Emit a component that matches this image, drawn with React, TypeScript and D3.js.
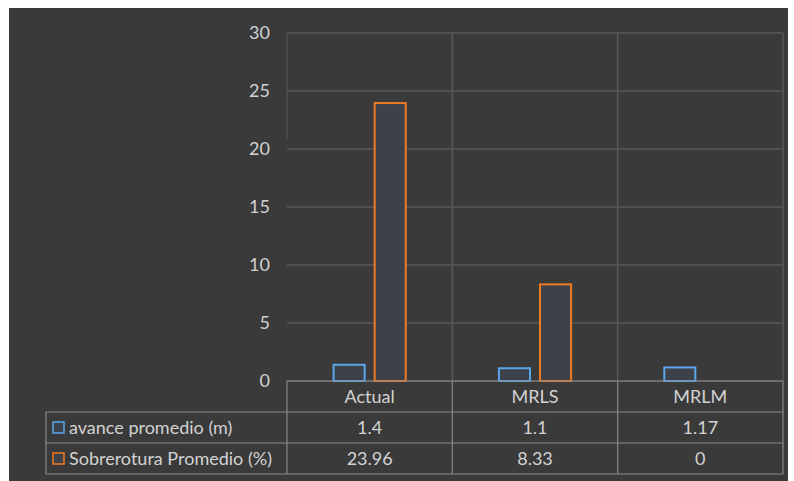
import React from "react";
import * as d3 from "d3";

const categories = ["Actual", "MRLS", "MRLM"];
const seriesNames = ["avance promedio (m)", "Sobrerotura Promedio (%)"];
const avance = [1.4, 1.1, 1.17];
const sobrerotura = [23.96, 8.33, 0];
const avanceLabels = ["1.4", "1.1", "1.17"];
const sobreroturaLabels = ["23.96", "8.33", "0"];
const yTicks = [0, 5, 10, 15, 20, 25, 30];

const colors = ["#5aa6ec", "#f07a22"];

export default function App() {
  const W = 794, H = 481;
  const plotL = 287, plotR = 783, plotT = 33, plotB = 381;
  const tableL = 46;
  const rowH = 31;
  const font = "Lato, 'Open Sans', sans-serif";
  const fs = 18;

  const x = d3.scaleBand().domain(categories).range([plotL, plotR]).paddingInner(0).paddingOuter(0);
  const y = d3.scaleLinear().domain([0, 30]).range([plotB, plotT]);
  const inner = d3.scaleBand().domain(["0", "1"]).range([0, x.bandwidth()]).paddingInner(0.244).paddingOuter(1.134);

  const series = [avance, sobrerotura];
  const labels = [avanceLabels, sobreroturaLabels];
  const textCol = "#d2d2d2";
  const lineCol = "#8a8a8a";
  const gridCol = "#585858";

  return (
    <svg width={W} height={H} style={{ position: "absolute", left: 0, top: 0, display: "block" }}>
      <rect x={0} y={0} width={W} height={H} fill="#ffffff" />
      <rect x={9} y={8} width={779} height={473} fill="#3a3a3a" />
      {yTicks.map((t) => (
        <line key={"g" + t} x1={plotL} x2={plotR} y1={y(t)} y2={y(t)} stroke={gridCol} strokeWidth={1.5} />
      ))}
      {categories.map((c) => (
        <line key={"v" + c} x1={x(c)! + x.bandwidth()} x2={x(c)! + x.bandwidth()} y1={plotT} y2={plotB} stroke={gridCol} strokeWidth={1.5} />
      ))}
      <line x1={plotL} x2={plotL} y1={plotT} y2={140} stroke={gridCol} strokeWidth={1} />
      {yTicks.map((t) => (
        <text key={"t" + t} x={270} y={y(t)} dy="0.35em" textAnchor="end" fill={textCol} fontSize={fs} fontFamily={font}>
          {t}
        </text>
      ))}
      {series.map((vals, si) =>
        categories.map((c, ci) => {
          const v = vals[ci];
          if (v <= 0) return null;
          const bx = x(c)! + inner(String(si))!;
          const by = y(v);
          return (
            <rect key={`b${si}-${ci}`} x={bx} y={by} width={inner.bandwidth()} height={y(0) - by}
              fill="#3d424a" stroke={colors[si]} strokeWidth={2} />
          );
        })
      )}
      <g stroke={lineCol} strokeWidth={1.2} fill="none">
        <line x1={plotL} x2={plotR} y1={plotB} y2={plotB} />
        <line x1={tableL} x2={plotR} y1={plotB + rowH} y2={plotB + rowH} />
        <line x1={tableL} x2={plotR} y1={plotB + 2 * rowH} y2={plotB + 2 * rowH} />
        <line x1={tableL} x2={plotR} y1={plotB + 3 * rowH} y2={plotB + 3 * rowH} />
        <line x1={tableL} x2={tableL} y1={plotB + rowH} y2={plotB + 3 * rowH} />
        <line x1={plotL} x2={plotL} y1={plotB} y2={plotB + 3 * rowH} />
        {categories.map((c) => (
          <line key={"tv" + c} x1={x(c)! + x.bandwidth()} x2={x(c)! + x.bandwidth()} y1={plotB} y2={plotB + 3 * rowH} />
        ))}
      </g>
      {categories.map((c) => (
        <text key={"h" + c} x={x(c)! + x.bandwidth() / 2} y={plotB + rowH / 2} dy="0.35em" textAnchor="middle"
          fill={textCol} fontSize={fs} fontFamily={font}>{c}</text>
      ))}
      {seriesNames.map((s, si) => (
        <g key={"r" + si}>
          <rect x={53} y={plotB + rowH * (si + 1) + rowH / 2 - 5.5} width={11} height={11} fill="#3d424a" stroke={colors[si]} strokeWidth={1.5} />
          <text x={69} y={plotB + rowH * (si + 1) + rowH / 2} dy="0.35em" fill={textCol} fontSize={fs} fontFamily={font}>{s}</text>
          {categories.map((c, ci) => (
            <text key={c} x={x(c)! + x.bandwidth() / 2} y={plotB + rowH * (si + 1) + rowH / 2} dy="0.35em" textAnchor="middle"
              fill={textCol} fontSize={fs} fontFamily={font}>{labels[si][ci]}</text>
          ))}
        </g>
      ))}
    </svg>
  );
}
